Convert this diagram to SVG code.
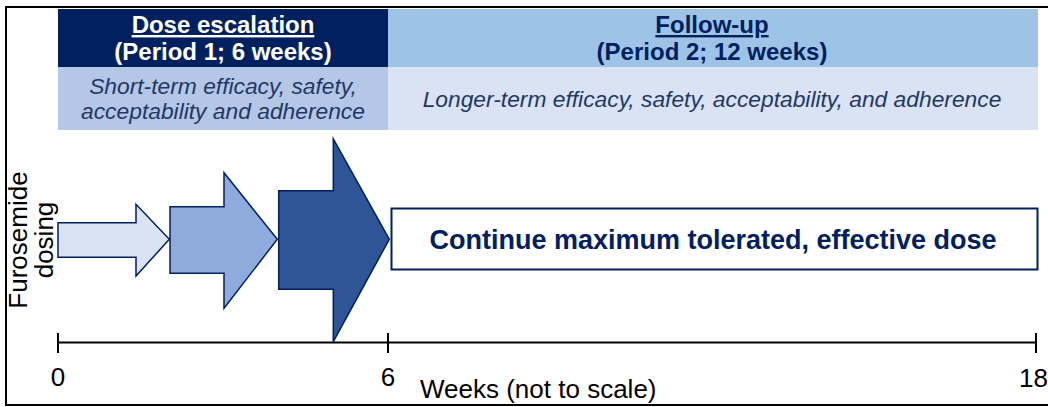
<svg xmlns="http://www.w3.org/2000/svg" width="1048" height="407" viewBox="0 0 1048 407">
<style>
text{font-family:"Liberation Sans",Arial,sans-serif}
.hb{font-weight:bold;font-size:24px;text-anchor:middle}
.it{font-style:italic;font-size:22.8px;text-anchor:middle;fill:#1F3864}
.ax{font-size:26px;fill:#000}
.arr{stroke:#002060;stroke-width:1.5;stroke-linejoin:miter}
.tl{stroke:#000;stroke-width:2;fill:none}
</style>
<rect x="6" y="7" width="1050" height="398" fill="#fff" stroke="#000" stroke-width="2"/>
<g id="header-period1">
<rect x="58" y="9" width="330" height="58" fill="#002060"/>
<text class="hb" x="223" y="33" fill="#fff" text-decoration="underline">Dose escalation</text>
<text class="hb" x="223" y="60" fill="#fff">(Period 1; 6 weeks)</text>
</g>
<g id="header-period2">
<rect x="388" y="9" width="650" height="58" fill="#9DC3E6"/>
<text class="hb" x="712" y="33" fill="#002060" text-decoration="underline">Follow-up</text>
<text class="hb" x="712" y="60" fill="#002060">(Period 2; 12 weeks)</text>
</g>
<g id="outcome-period1">
<rect x="58" y="67" width="330" height="63" fill="#B4C7E7"/>
<text class="it" x="223" y="94">Short-term efficacy, safety,</text>
<text class="it" x="223" y="119">acceptability and adherence</text>
</g>
<g id="outcome-period2">
<rect x="388" y="67" width="650" height="63" fill="#DAE3F3"/>
<text class="it" x="712" y="107">Longer-term efficacy, safety, acceptability, and adherence</text>
</g>
<g id="ylabel">
<text class="ax" font-size="26.5" text-anchor="middle" transform="translate(27,240) rotate(-90)">Furosemide</text>
<text class="ax" font-size="26.5" text-anchor="middle" transform="translate(53,240) rotate(-90)">dosing</text>
</g>
<g id="dose-arrows">
<polygon id="dose1" class="arr" fill="#DAE3F3" points="58,222.7 136,222.7 136,204.3 169.3,239.3 136,276 136,257.3 58,257.3"/>
<polygon id="dose2" class="arr" fill="#8FAADC" points="170,206.7 224,206.7 224,172.7 277.3,239.3 224,308.3 224,273.3 170,273.3"/>
<polygon id="dose3" class="arr" fill="#2F5597" points="278.7,190.7 333.3,190.7 333.3,139 389.3,239.3 333.3,341.7 333.3,289.3 278.7,289.3"/>
</g>
<g id="maintenance">
<rect x="391.5" y="208.5" width="646" height="61" fill="#fff" stroke="#002060" stroke-width="2"/>
<text x="713" y="249" font-size="27" font-weight="bold" fill="#002060" text-anchor="middle">Continue maximum tolerated, effective dose</text>
</g>
<g id="timeline">
<line class="tl" x1="58" y1="342.5" x2="1036" y2="342.5"/>
<line class="tl" x1="58" y1="333" x2="58" y2="353"/>
<line class="tl" x1="388" y1="333" x2="388" y2="353"/>
<line class="tl" x1="1036" y1="333" x2="1036" y2="353"/>
<text class="ax" x="58" y="386" text-anchor="middle">0</text>
<text class="ax" x="388" y="386" text-anchor="middle">6</text>
<text class="ax" x="1019" y="387">18</text>
<text class="ax" x="420" y="398" font-size="27">Weeks (not to scale)</text>
</g>
</svg>
